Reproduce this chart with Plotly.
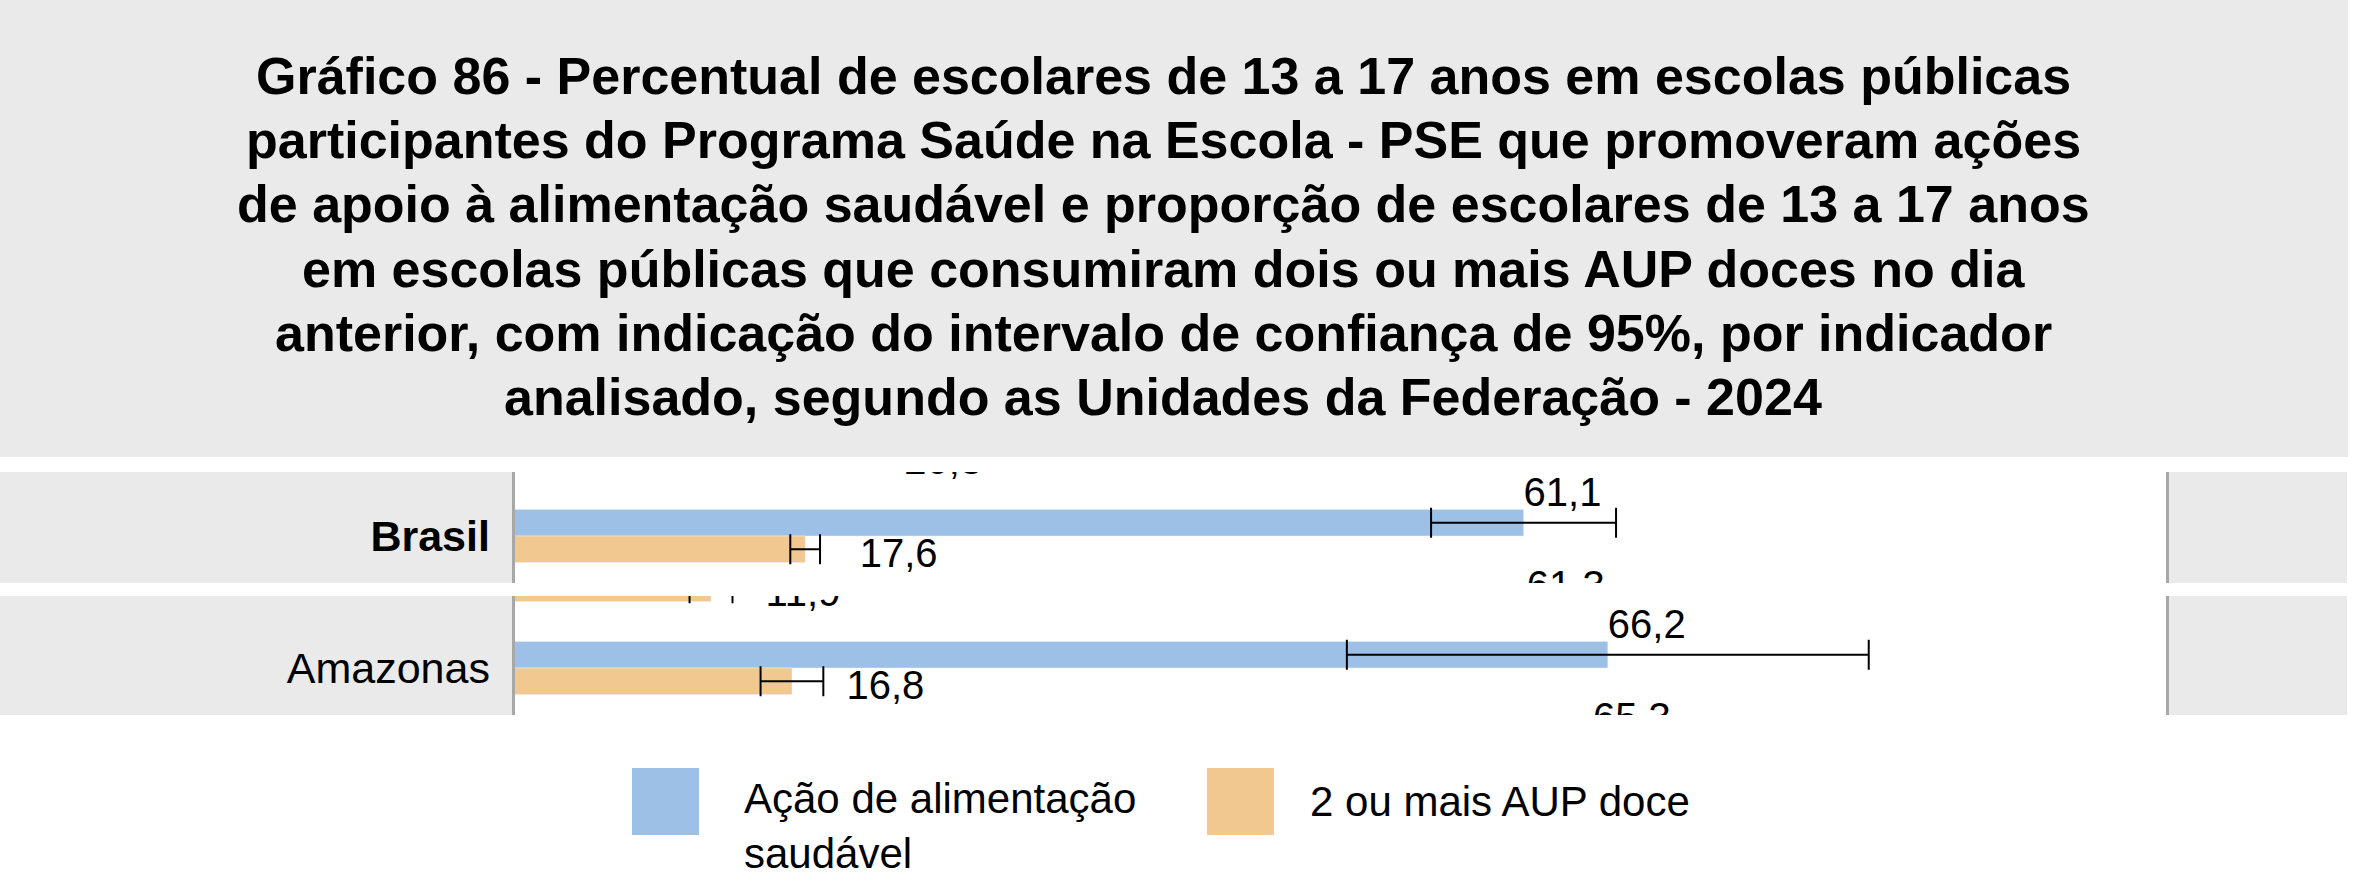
import plotly.graph_objects as go
from plotly.subplots import make_subplots

W, H = 2356, 896

title_lines = [
    "Gráfico 86 - Percentual de escolares de 13 a 17 anos em escolas públicas",
    "participantes do Programa Saúde na Escola - PSE que promoveram ações",
    "de apoio à alimentação saudável e proporção de escolares de 13 a 17 anos",
    "em escolas públicas que consumiram dois ou mais AUP doces no dia",
    "anterior, com indicação do intervalo de confiança de 95%, por indicador",
    "analisado, segundo as Unidades da Federação - 2024",
]
series = ["Ação de alimentação<br>saudável", "2 ou mais AUP doce"]

# each panel shows one row plus the clipped rows above and below it
cats_brasil = ["", "Brasil", "Norte"]
acao_brasil = [None, 61.1, 61.3]
acao_ic_brasil = [None, 5.6, None]
doce_brasil = [20.3, 17.6, None]
doce_ic_brasil = [None, 0.9, None]

cats_amazonas = ["Acre", "Amazonas", "Roraima"]
acao_amazonas = [None, 66.2, 65.3]
acao_ic_amazonas = [None, 15.8, None]
doce_amazonas = [11.9, 16.8, None]
doce_ic_amazonas = [1.3, 1.9, None]

blue = "#9DC1E6"
orange = "#F2C891"
gray = "#EAEAEA"
line_gray = "#A8A8A8"
font = "Liberation Sans"


def fx(p):
    return p / W


def fy(p):
    return 1 - p / H


def fmt(v):
    return None if v is None else f"{v:.1f}".replace(".", ",")


panels = [
    (cats_brasil, acao_brasil, acao_ic_brasil, doce_brasil, doce_ic_brasil, (472, 583), 0.312),
    (cats_amazonas, acao_amazonas, acao_ic_amazonas, doce_amazonas, doce_ic_amazonas, (596, 715), 0.226),
]

fig = make_subplots(rows=2, cols=1)
shapes = []
x_dom = [fx(514.5), fx(2166)]

for i, (cats, acao, acao_ic, doce, doce_ic, (top, bottom), ytop) in enumerate(panels):
    row = i + 1
    pos = list(range(len(cats)))
    err = dict(type="data", color="black", thickness=2, width=15, visible=True)
    fig.add_trace(go.Bar(y=pos, x=acao, orientation="h", marker_color=blue,
                         error_x=dict(err, array=acao_ic), name=series[0],
                         showlegend=False), row=row, col=1)
    fig.add_trace(go.Bar(y=pos, x=doce, orientation="h", marker_color=orange,
                         error_x=dict(err, array=doce_ic), name=series[1],
                         showlegend=False), row=row, col=1)
    # value labels: blue above its bar, orange below and a bit to the right
    fig.add_trace(go.Scatter(
        x=acao, y=[p - 0.43 for p in pos], text=[fmt(v) for v in acao],
        mode="text", textposition="middle right",
        textfont=dict(family=font, size=40, color="black"),
        showlegend=False, hoverinfo="skip"), row=row, col=1)
    fig.add_trace(go.Scatter(
        x=[None if v is None else v + 3.3 for v in doce],
        y=[p + 0.226 for p in pos], text=[fmt(v) for v in doce],
        mode="text", textposition="middle right",
        textfont=dict(family=font, size=40, color="black"),
        showlegend=False, hoverinfo="skip"), row=row, col=1)

    fig.update_xaxes(domain=x_dom, range=[0, 100], showticklabels=False,
                     showgrid=False, zeroline=False, showline=False, row=row, col=1)
    fig.update_yaxes(domain=[fy(bottom), fy(top)], range=[1.505, ytop],
                     tickvals=pos,
                     ticktext=[f"<b>{c}</b>" if c == "Brasil" else c for c in cats],
                     tickfont=dict(family=font, size=43, color="black"),
                     ticklabelstandoff=13,
                     showgrid=False, zeroline=False, showline=True, mirror=True,
                     linecolor=line_gray, linewidth=3, row=row, col=1)
    # grey label boxes either side of the plot area
    shapes.append(dict(type="rect", xref="paper", yref="paper", x0=0, x1=fx(514),
                       y0=fy(bottom), y1=fy(top), fillcolor=gray, line_width=0, layer="below"))
    shapes.append(dict(type="rect", xref="paper", yref="paper", x0=fx(2166), x1=fx(2347),
                       y0=fy(bottom), y1=fy(top), fillcolor=gray, line_width=0, layer="below"))

# title box
shapes.append(dict(type="rect", xref="paper", yref="paper", x0=0, x1=fx(2348),
                   y0=fy(457), y1=1, fillcolor=gray, line_width=0, layer="below"))

annotations = []
for k, line in enumerate(title_lines):
    annotations.append(dict(text=line, xref="paper", yref="paper",
                            x=fx(1163), y=fy(76 + 64.2 * k), xanchor="center", yanchor="middle",
                            showarrow=False,
                            font=dict(family=font, size=52, color="black", weight="bold")))

# legend drawn by hand (large swatches)
for name, color, x0, tx in [(series[0], blue, 632, 742), (series[1], orange, 1207, 1308)]:
    shapes.append(dict(type="rect", xref="paper", yref="paper", x0=fx(x0), x1=fx(x0 + 67),
                       y0=fy(835), y1=fy(768), fillcolor=color, line_width=0))
    two = "<br>" in name
    annotations.append(dict(text=name, xref="paper", yref="paper", x=fx(tx),
                            y=fy(801), xanchor="left", yanchor="top" if two else "middle",
                            yshift=28 if two else 0,
                            showarrow=False, align="left",
                            font=dict(family=font, size=42, color="black")))

fig.update_layout(
    width=W, height=H,
    margin=dict(l=0, r=0, t=0, b=0),
    paper_bgcolor="white", plot_bgcolor="white",
    barmode="group", bargap=0.43, bargroupgap=0,
    shapes=shapes, annotations=annotations,
    showlegend=False,
)

fig.write_html("out.html", config={"displayModeBar": False},
               post_script="document.body.style.margin = '0';")
